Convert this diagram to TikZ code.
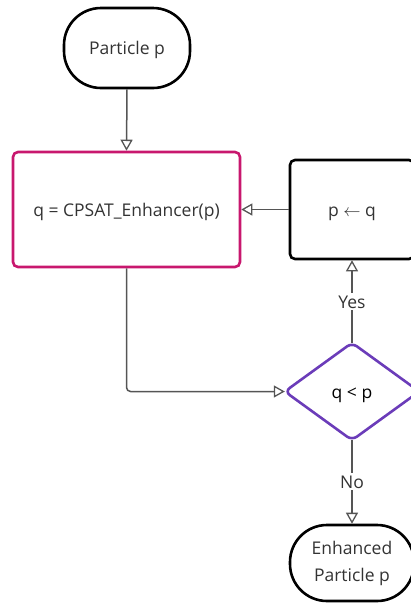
\documentclass[tikz,border=0pt]{standalone}
\usepackage{fontspec}
\setmainfont{Open Sans}
\usetikzlibrary{arrows.meta,shapes.geometric}
\definecolor{magentabox}{HTML}{C8176E}
\definecolor{purplebox}{HTML}{6B3CB9}
\definecolor{linegray}{HTML}{555555}
\definecolor{textgray}{HTML}{333333}
\tikzset{
  one/.style={text height=13pt, text depth=0pt},
  box/.style={draw=black, line width=2.6pt, rounded corners=5pt, inner sep=0pt, text=textgray, one},
  stadium/.style={draw=black, line width=2.6pt, rounded corners=37pt, inner sep=0pt, text=textgray, align=center},
  conn/.style={draw=linegray, line width=1.5pt, -{Triangle[open, length=11pt, width=12pt, line width=1.3pt]}},
  lab/.style={fill=white, text=textgray, inner sep=2pt, one},
  every node/.style={font=\fontsize{17.5}{27}\selectfont}
}
\begin{document}
\begin{tikzpicture}[x=1pt,y=-1pt]
\useasboundingbox (0,0) rectangle (411,603);
\node[stadium, one, minimum width=126pt, minimum height=80pt] (start) at (127,48) {Particle p};
\node[box, draw=magentabox, minimum width=227pt, minimum height=115pt] (cpsat) at (126.5,209.5) {q = CPSAT\_Enhancer(p)};
\node[box, minimum width=124pt, minimum height=99pt] (upd) at (352,209.5) {p $\leftarrow$ q};
\node[draw=none, one, minimum width=134pt, minimum height=97pt, inner sep=0pt] (dec) at (352,391.5) {q < p};
\draw[purplebox, line width=2.6pt, rounded corners=6pt]
  (dec.north) -- (dec.east) -- (dec.south) -- (dec.west) -- cycle;
\node[stadium, minimum width=124pt, minimum height=76pt] (end) at (352,563) {Enhanced\\Particle p};
\draw[conn] (start.south) -- (cpsat.north);
\draw[conn] (upd.west) -- (cpsat.east);
\draw[conn, rounded corners=4pt] (cpsat.south) |- (dec.west);
\draw[conn] (dec.north) -- node[lab] {Yes} (upd.south);
\draw[conn] (dec.south) -- node[lab] {No} (end.north);
\end{tikzpicture}
\end{document}
